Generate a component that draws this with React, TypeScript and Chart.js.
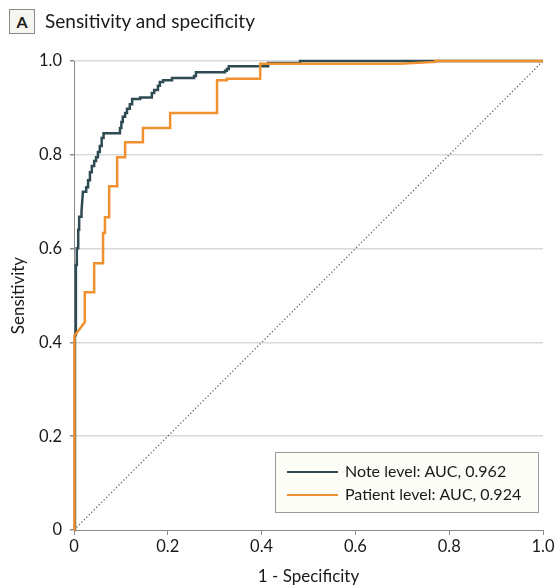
import React, { useEffect, useRef } from "react";
import { Chart, registerables } from "chart.js";

Chart.register(...registerables);

// Note level ROC (1 - specificity, sensitivity)
const noteFpr = [0, 0.002, 0.002, 0.004, 0.004, 0.006, 0.006, 0.009, 0.009, 0.011, 0.011, 0.015, 0.015, 0.017, 0.019, 0.026, 0.026, 0.03, 0.03, 0.034, 0.034, 0.038, 0.038, 0.043, 0.043, 0.047, 0.047, 0.051, 0.051, 0.055, 0.055, 0.059, 0.059, 0.063, 0.063, 0.098, 0.098, 0.101, 0.101, 0.104, 0.104, 0.109, 0.109, 0.113, 0.113, 0.119, 0.119, 0.124, 0.124, 0.141, 0.141, 0.166, 0.166, 0.171, 0.171, 0.179, 0.179, 0.183, 0.183, 0.19, 0.19, 0.209, 0.209, 0.256, 0.256, 0.26, 0.26, 0.322, 0.322, 0.326, 0.326, 0.33, 0.33, 0.414, 0.414, 0.482, 0.482, 1];
const noteTpr = [0, 0.15, 0.416, 0.416, 0.565, 0.565, 0.601, 0.601, 0.64, 0.64, 0.668, 0.668, 0.68, 0.68, 0.721, 0.721, 0.731, 0.731, 0.746, 0.746, 0.763, 0.763, 0.776, 0.776, 0.787, 0.787, 0.795, 0.795, 0.806, 0.806, 0.819, 0.819, 0.836, 0.836, 0.846, 0.846, 0.857, 0.857, 0.87, 0.87, 0.881, 0.881, 0.889, 0.889, 0.898, 0.898, 0.908, 0.908, 0.919, 0.919, 0.922, 0.922, 0.932, 0.932, 0.938, 0.938, 0.947, 0.947, 0.955, 0.955, 0.959, 0.959, 0.964, 0.964, 0.968, 0.968, 0.976, 0.976, 0.979, 0.979, 0.983, 0.983, 0.989, 0.989, 0.996, 0.996, 1, 1];

// Patient level ROC
const patientFpr = [0, 0.001, 0.023, 0.023, 0.043, 0.043, 0.062, 0.062, 0.066, 0.066, 0.075, 0.075, 0.092, 0.092, 0.109, 0.109, 0.147, 0.147, 0.205, 0.205, 0.305, 0.305, 0.326, 0.326, 0.397, 0.397, 0.695, 0.77, 0.77, 1];
const patientTpr = [0, 0.414, 0.443, 0.507, 0.507, 0.569, 0.569, 0.633, 0.633, 0.667, 0.667, 0.733, 0.733, 0.795, 0.795, 0.827, 0.827, 0.857, 0.857, 0.889, 0.889, 0.959, 0.959, 0.962, 0.962, 0.994, 0.994, 0.998, 1, 1];

const diagX = [0, 1];
const diagY = [0, 1];

const legendLabels = ["Note level: AUC, 0.962", "Patient level: AUC, 0.924"];
const colors = ["#2e4a53", "#f0912f"];

const FONT = "Lato, 'Open Sans', sans-serif";

const toPts = (xs: number[], ys: number[]) => xs.map((x, i) => ({ x, y: ys[i] }));

const legendBox = {
  id: "legendBox",
  afterDatasetsDraw(chart: any) {
    const { ctx, chartArea } = chart;
    const w = 264;
    const h = 61;
    const x = chartArea.right - 4 - w;
    const y = chartArea.bottom - 17 - h;
    ctx.save();
    ctx.fillStyle = "#fdfdf7";
    ctx.strokeStyle = "#9a9a9a";
    ctx.lineWidth = 1;
    ctx.fillRect(x, y, w, h);
    ctx.strokeRect(x + 0.5, y + 0.5, w - 1, h - 1);
    ctx.font = `16px ${FONT}`;
    ctx.textBaseline = "middle";
    ctx.fillStyle = "#1a1a1a";
    legendLabels.forEach((lab, i) => {
      const cy = y + 20 + i * 23;
      ctx.strokeStyle = colors[i];
      ctx.lineWidth = 2;
      ctx.beginPath();
      ctx.moveTo(x + 12, cy);
      ctx.lineTo(x + 63, cy);
      ctx.stroke();
      ctx.fillText(lab, x + 70, cy);
    });
    ctx.restore();
  },
};

export default function App() {
  const ref = useRef<HTMLCanvasElement>(null);
  useEffect(() => {
    if (!ref.current) return;
    const fmt = (v: any) => (Number(v) === 0 ? "0" : Number(v).toFixed(1));
    const chart = new Chart(ref.current, {
      type: "scatter",
      data: {
        datasets: [
          {
            label: "Patient level",
            data: toPts(patientFpr, patientTpr),
            showLine: true,
            borderColor: colors[1],
            borderWidth: 2.5,
            pointRadius: 0,
            order: 0,
            clip: false,
          } as any,
          {
            label: "Note level",
            data: toPts(noteFpr, noteTpr),
            showLine: true,
            borderColor: colors[0],
            borderWidth: 2.5,
            pointRadius: 0,
            order: 1,
            clip: false,
          },
          {
            label: "Reference",
            data: toPts(diagX, diagY),
            showLine: true,
            borderColor: "#6a6a6a",
            borderWidth: 1.3,
            borderDash: [1.3, 2.2],
            pointRadius: 0,
            order: 2,
          },
        ],
      },
      options: {
        responsive: false,
        animation: false,
        layout: { padding: { top: 61, right: 16, left: 0, bottom: 0 } },
        plugins: { legend: { display: false }, tooltip: { enabled: false } },
        scales: {
          x: {
            type: "linear",
            min: 0,
            max: 1,
            afterFit: (s: any) => {
              s.height = 57;
            },
            ticks: {
              stepSize: 0.2,
              callback: fmt,
              font: { family: FONT, size: 16.5 },
              color: "#1a1a1a",
              padding: 2,
              maxRotation: 0,
            },
            grid: {
              drawOnChartArea: false,
              drawTicks: true,
              tickLength: 5,
              tickColor: "#8a8a8a",
            },
            border: { color: "#8a8a8a", width: 1 },
            title: {
              display: true,
              text: "1 - Specificity",
              font: { family: FONT, size: 17 },
              color: "#1a1a1a",
              padding: { top: 0, bottom: 0 },
            },
          },
          y: {
            type: "linear",
            min: 0,
            max: 1,
            afterFit: (s: any) => {
              s.width = 74;
            },
            ticks: {
              stepSize: 0.2,
              callback: fmt,
              font: { family: FONT, size: 16.5 },
              color: "#1a1a1a",
              padding: 8,
            },
            grid: {
              color: (c: any) => (c.tick && c.tick.value === 0 ? "rgba(0,0,0,0)" : "#d9d9d9"),
              lineWidth: 1.5,
              drawTicks: true,
              tickLength: 4,
              tickColor: "#8a8a8a",
            },
            border: { color: "#8a8a8a", width: 1 },
            title: {
              display: true,
              text: "Sensitivity",
              font: { family: FONT, size: 17 },
              color: "#1a1a1a",
              padding: { top: 8, bottom: 0 },
            },
          },
        },
      },
      plugins: [legendBox],
    });
    return () => chart.destroy();
  }, []);

  return (
    <div style={{ position: "absolute", left: 0, top: 0, width: 559, height: 587, background: "#fff" }}>
      <canvas ref={ref} width={559} height={587} style={{ position: "absolute", left: 0, top: 0 }} />
      <div
        style={{
          position: "absolute",
          left: 9,
          top: 9,
          width: 24,
          height: 23,
          border: "1px solid #8a8a8a",
          background: "#f7f7f2",
          fontFamily: FONT,
          fontWeight: 700,
          fontSize: 16,
          lineHeight: "23px",
          textAlign: "center",
          color: "#1a1a1a",
        }}
      >
        A
      </div>
      <div
        style={{
          position: "absolute",
          left: 45,
          top: 8,
          fontFamily: FONT,
          fontSize: 19,
          lineHeight: "25px",
          color: "#1a1a1a",
        }}
      >
        Sensitivity and specificity
      </div>
    </div>
  );
}
